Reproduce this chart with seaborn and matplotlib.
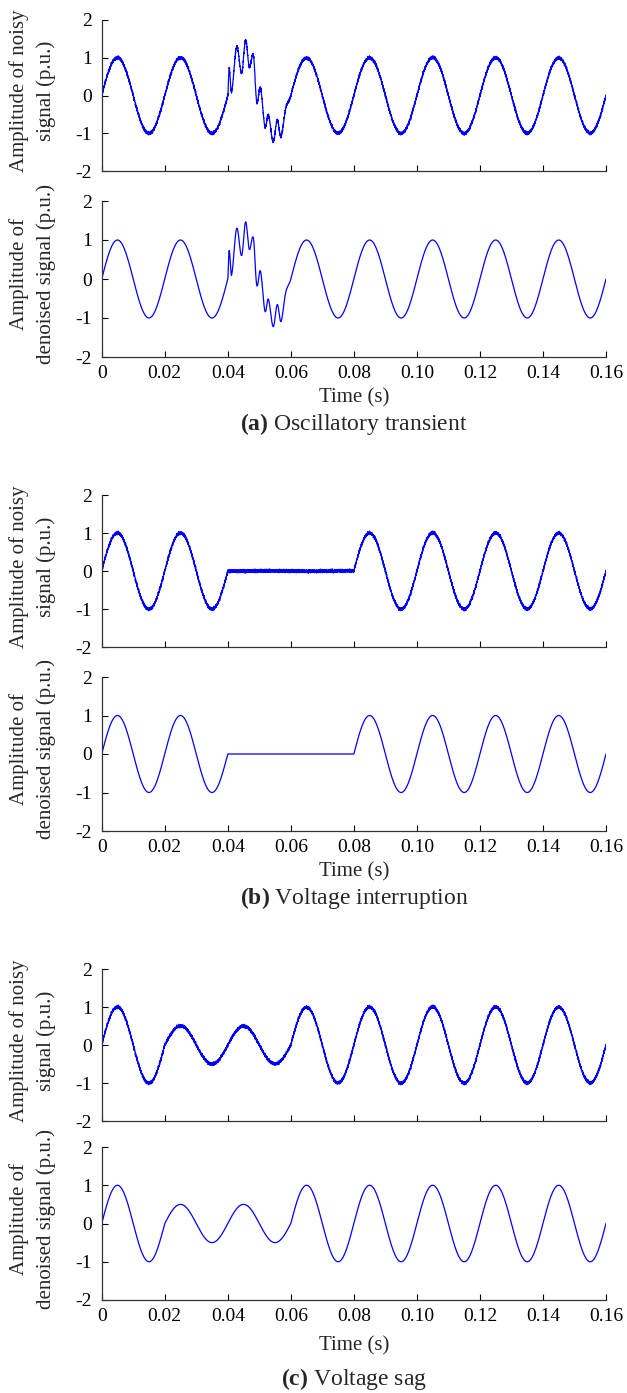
import numpy as np
import pandas as pd
import matplotlib
matplotlib.use("Agg")
import matplotlib.pyplot as plt
import seaborn as sns

# ---------------- data ----------------
fundamental_hz = 50.0
sample_rate_hz = 25000.0
t_end = 0.16
cycle_len = 0.02

# per-cycle amplitude of the 50 Hz fundamental (8 cycles)
amp_oscillatory = [1.0, 1.0, 1.0, 1.0, 1.0, 1.0, 1.0, 1.0]
amp_interruption = [1.0, 1.0, 0.0, 0.0, 1.0, 1.0, 1.0, 1.0]
amp_sag = [1.0, 0.5, 0.5, 1.0, 1.0, 1.0, 1.0, 1.0]

# oscillatory transient: deviation from the sine at its turning points
transient_t = [0.0400, 0.0404, 0.0412, 0.0428, 0.0444, 0.0457, 0.0468, 0.0481,
               0.0492, 0.0504, 0.0518, 0.0529, 0.0544, 0.0557, 0.0569, 0.0585, 0.0600]
transient_dev = [0.00, 0.60, -0.27, 0.52, -0.38, 0.49, -0.08, 0.50,
                 -0.41, 0.32, -0.29, 0.27, -0.24, 0.32, -0.26, 0.15, 0.00]

# measurement noise: small high-frequency components (frequency Hz, amplitude p.u.)
noise_freqs = [5311.0, 7919.0, 10133.0, 11731.0, 3467.0]
noise_amps = [0.016, 0.015, 0.013, 0.015, 0.010]

xtick_vals = [0, 0.02, 0.04, 0.06, 0.08, 0.10, 0.12, 0.14, 0.16]
xtick_labels = ["0", "0.02", "0.04", "0.06", "0.08", "0.10", "0.12", "0.14", "0.16"]
ytick_vals = [-2, -1, 0, 1, 2]
ytick_labels = ["-2", "-1", "0", "1", "2"]

captions = [("(a)", "Oscillatory transient"),
            ("(b)", "Voltage interruption"),
            ("(c)", "Voltage sag")]
ylabel_noisy = "Amplitude of noisy\nsignal (p.u.)"
ylabel_denoised = "Amplitude of\ndenoised signal (p.u.)"
xlabel = "Time (s)"

# ---------------- build signals ----------------
t = np.arange(0, t_end + 1e-9, 1.0 / sample_rate_hz)
cycle_idx = np.clip((t / cycle_len).astype(int), 0, 7)
base = np.sin(2 * np.pi * fundamental_hz * t)


def transient_curve(tt):
    out = np.zeros_like(tt)
    tt_arr = np.array(transient_t)
    dd = np.array(transient_dev)
    for i in range(len(tt_arr) - 1):
        m = (tt >= tt_arr[i]) & (tt < tt_arr[i + 1])
        u = (tt[m] - tt_arr[i]) / (tt_arr[i + 1] - tt_arr[i])
        out[m] = dd[i] + (dd[i + 1] - dd[i]) * (1 - np.cos(np.pi * u)) / 2
    return out


noise = np.zeros_like(t)
for k, (f, a) in enumerate(zip(noise_freqs, noise_amps)):
    noise += a * np.sin(2 * np.pi * f * t + 1.3 * k)

clean_a = np.array(amp_oscillatory)[cycle_idx] * base + transient_curve(t)
clean_b = np.array(amp_interruption)[cycle_idx] * base
clean_c = np.array(amp_sag)[cycle_idx] * base
cleans = [clean_a, clean_b, clean_c]

# ---------------- figure ----------------
sns.set_theme(style="ticks")
plt.rcParams["font.family"] = ["Liberation Serif", "DejaVu Serif"]
plt.rcParams["mathtext.fontset"] = "custom"
plt.rcParams["mathtext.rm"] = "Liberation Serif"
plt.rcParams["mathtext.bf"] = "Liberation Serif:bold"

W, H = 627, 1393
fig = plt.figure(figsize=(W / 100, H / 100), dpi=100)

ax_left, ax_right = 101.7, 606.0
# (top px, bottom px) for each axes
panel_px = [(20, 171), (201, 357),
            (495, 647), (677, 831),
            (969, 1121), (1147, 1300)]
xlabel_y = [398, 872, 1346]
caption_y = [424, 898, 1379]
caption_x = [354, 354, 354]

blue = "#0000ff"
for g in range(3):
    for j in range(2):
        top, bot = panel_px[2 * g + j]
        ax = fig.add_axes([ax_left / W, 1 - bot / H, (ax_right - ax_left) / W, (bot - top) / H])
        y = cleans[g] + (noise if j == 0 else 0)
        df = pd.DataFrame({"t": t, "v": y})
        sns.lineplot(data=df, x="t", y="v", ax=ax, color=blue,
                     linewidth=0.9, estimator=None, sort=False)
        ax.set_xlim(0, 0.16)
        ax.set_ylim(-2, 2)
        ax.set_xticks(xtick_vals)
        ax.set_yticks(ytick_vals)
        ax.set_yticklabels(ytick_labels)
        if j == 1:
            ax.set_xticklabels(xtick_labels)
        else:
            ax.set_xticklabels([])
        ax.set_xlabel("")
        ax.set_ylabel(ylabel_noisy if j == 0 else ylabel_denoised, fontsize=15,
                      linespacing=1.45)
        ax.yaxis.set_label_coords(-0.091, 0.53)
        ax.tick_params(direction="in", length=4, width=0.8, labelsize=14,
                       colors="black")
        ax.tick_params(axis="x", pad=6)
        ax.tick_params(axis="y", pad=7)
        for s in ["left", "bottom"]:
            ax.spines[s].set_color("#333333")
            ax.spines[s].set_linewidth(0.9)
        sns.despine(ax=ax)
        ax.margins(x=0)

    fig.text(354 / W, 1 - xlabel_y[g] / H, xlabel, ha="center", va="center", fontsize=15)
    lab, cap = captions[g]
    fig.text(caption_x[g] / W, 1 - caption_y[g] / H,
             r"$\mathbf{" + lab + r"}$ " + cap, ha="center", va="center", fontsize=17)

fig.savefig("out.png", dpi=100, facecolor="white")
